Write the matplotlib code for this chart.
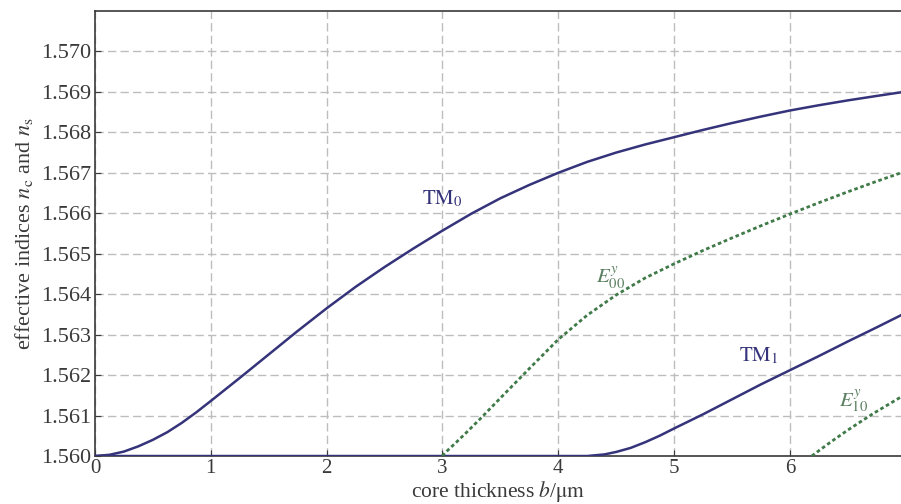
import numpy as np
import matplotlib
matplotlib.use("Agg")
import matplotlib.pyplot as plt

plt.rcParams['font.family'] = ['Liberation Serif', 'DejaVu Serif']
plt.rcParams['mathtext.fontset'] = 'stix'

# curves (x in um, effective index)
tm0_x = [0, 0.125, 0.25, 0.375, 0.5, 0.625, 0.75, 0.875, 1.0, 1.25, 1.5, 1.75,
         2.0, 2.25, 2.5, 2.75, 3.0, 3.25, 3.5, 3.75, 4.0, 4.25, 4.5, 4.75,
         5.0, 5.25, 5.5, 5.75, 6.0, 6.25, 6.5, 6.75, 6.96]
tm0_y = [1.56000, 1.56003, 1.56011, 1.56024, 1.56040, 1.56059, 1.56082, 1.56108,
         1.56136, 1.56193, 1.56251, 1.56309, 1.56365, 1.56418, 1.56467, 1.56513,
         1.56557, 1.56599, 1.56637, 1.56670, 1.56700, 1.56727, 1.56750, 1.56770,
         1.56788, 1.56806, 1.56823, 1.56839, 1.56854, 1.56867, 1.56879, 1.56890,
         1.56899]

e00_x = [3.0, 3.02, 3.06, 3.12, 3.2, 3.33, 3.5, 3.75, 4.0, 4.25, 4.5, 4.75,
         5.0, 5.25, 5.5, 5.75, 6.0, 6.25, 6.5, 6.75, 6.96]
e00_y = [1.56000, 1.56007, 1.56018, 1.56034, 1.56056, 1.56093, 1.56143, 1.56216,
         1.56288, 1.56348, 1.56398, 1.56440, 1.56475, 1.56508, 1.56539, 1.56569,
         1.56598, 1.56626, 1.56653, 1.56679, 1.56700]

tm1_x = [0, 4.25, 4.4, 4.5, 4.625, 4.75, 4.875, 5.0, 5.25, 5.5, 5.75, 6.0,
         6.25, 6.5, 6.75, 6.96]
tm1_y = [1.56000, 1.56000, 1.56004, 1.56010, 1.56020, 1.56034, 1.56050, 1.56068,
         1.56103, 1.56140, 1.56177, 1.56212, 1.56247, 1.56283, 1.56318, 1.56348]

e10_x = [6.19, 6.25, 6.35, 6.5, 6.72, 6.96]
e10_y = [1.56000, 1.56013, 1.56034, 1.56064, 1.56105, 1.56146]

xticks = [0, 1, 2, 3, 4, 5, 6]
yticks = [1.560, 1.561, 1.562, 1.563, 1.564, 1.565, 1.566, 1.567, 1.568, 1.569, 1.570]

navy = '#35337a'
green = '#3f7a48'
green_txt = '#5a7f60'
txt = '#3a3a3a'

fig = plt.figure(figsize=(9.01, 5.04), dpi=100)
ax = fig.add_axes([0.1054, 0.0952, 0.8946, 0.8830])

ax.plot(tm0_x, tm0_y, color=navy, lw=1.8, zorder=3)
ax.plot(tm1_x, tm1_y, color=navy, lw=1.8, zorder=3)
ax.plot(e00_x, e00_y, color=green, lw=2.0, linestyle=(0, (1.3, 1.0)), zorder=3)
ax.plot(e10_x, e10_y, color=green, lw=2.0, linestyle=(0, (1.3, 1.0)), zorder=3)

ax.text(3.0, 1.56635, r'$\mathrm{TM}_0$', color=navy, fontsize=15, ha='center', va='center')
ax.text(4.45, 1.56442, r'$E^{y}_{00}$', color=green_txt, fontsize=15, ha='center', va='center')
ax.text(5.73, 1.56247, r'$\mathrm{TM}_1$', color=navy, fontsize=15, ha='center', va='center')
ax.text(6.55, 1.56136, r'$E^{y}_{10}$', color=green_txt, fontsize=15, ha='center', va='center')

ax.set_xlim(0, 6.96)
ax.set_ylim(1.560, 1.571)
ax.set_xticks(xticks)
ax.set_yticks(yticks)
ax.set_xticklabels([str(t) for t in xticks])
ax.set_yticklabels([f'{t:.3f}' for t in yticks])
ax.tick_params(direction='in', length=4, labelsize=16, colors=txt, pad=3)
ax.tick_params(axis='x', pad=2, labelsize=15)

ax.grid(True, color='#bdbdbd', linestyle=(0, (6, 3)), linewidth=1.0)
for side in ['left', 'bottom', 'top']:
    ax.spines[side].set_color(txt)
    ax.spines[side].set_linewidth(1.2)
ax.spines['right'].set_visible(False)

ax.set_xlabel(r'core thickness $b$/$\mathrm{\mu m}$', fontsize=15.5, labelpad=1, color=txt)
ax.set_ylabel(r'effective indices $n_\mathrm{c}$ and $n_\mathrm{s}$', fontsize=16,
              labelpad=4, color=txt)

fig.savefig('out.png', dpi=100)
